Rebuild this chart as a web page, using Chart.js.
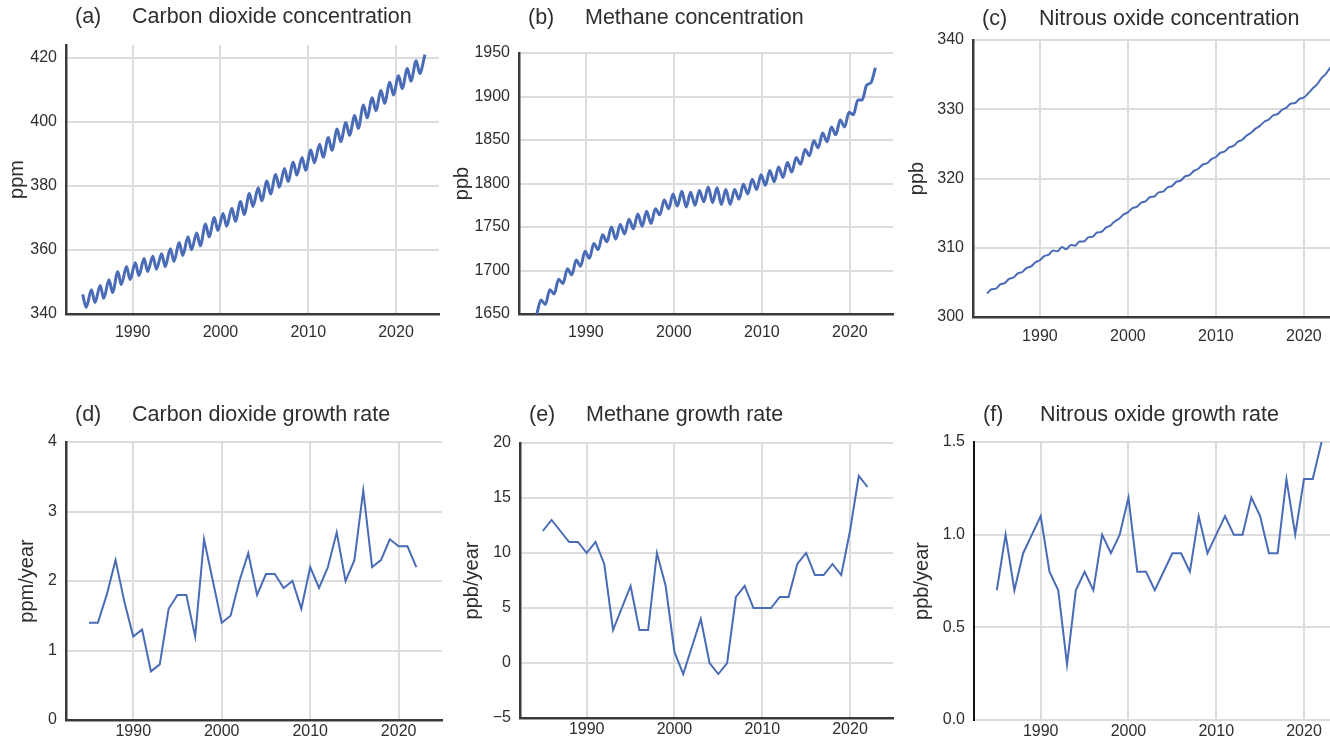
<!DOCTYPE html>
<html>
<head>
<meta charset="utf-8">
<title>Greenhouse gas concentrations and growth rates</title>
<script src="https://cdn.jsdelivr.net/npm/chart.js@4.4.1/dist/chart.umd.min.js"></script>
<style>
  html, body { margin: 0; padding: 0; background: #fff; }
  body { position: relative; width: 1330px; height: 745px; overflow: hidden; }
  canvas { position: absolute; }
</style>
</head>
<body>
<canvas id="co2"     width="450" height="345" style="left:0px;top:0px"></canvas>
<canvas id="ch4"     width="460" height="345" style="left:445px;top:0px"></canvas>
<canvas id="n2o"     width="460" height="345" style="left:900px;top:0px"></canvas>
<canvas id="co2Rate" width="450" height="355" style="left:0px;top:390px"></canvas>
<canvas id="ch4Rate" width="460" height="355" style="left:445px;top:390px"></canvas>
<canvas id="n2oRate" width="460" height="355" style="left:900px;top:390px"></canvas>

<script>
// ===== DATA =====
const xTicks = [1990, 2000, 2010, 2020];

const concYears = [
  1984, 1985, 1986, 1987, 1988, 1989, 1990, 1991, 1992, 1993,
  1994, 1995, 1996, 1997, 1998, 1999, 2000, 2001, 2002, 2003,
  2004, 2005, 2006, 2007, 2008, 2009, 2010, 2011, 2012, 2013,
  2014, 2015, 2016, 2017, 2018, 2019, 2020, 2021, 2022, 2023
];
const growthYears = [
  1985, 1986, 1987, 1988, 1989, 1990, 1991, 1992, 1993, 1994,
  1995, 1996, 1997, 1998, 1999, 2000, 2001, 2002, 2003, 2004,
  2005, 2006, 2007, 2008, 2009, 2010, 2011, 2012, 2013, 2014,
  2015, 2016, 2017, 2018, 2019, 2020, 2021, 2022
];

// CO2 (ppm): spring maximum and autumn minimum of each year
const co2High = [
  346.1, 347.6, 348.9, 350.7, 353.2, 354.8, 356.0, 357.3, 358.0, 358.8,
  360.4, 362.3, 364.1, 365.3, 368.1, 370.1, 371.4, 373.0, 375.1, 377.6,
  379.4, 381.5, 383.6, 385.4, 387.4, 388.9, 391.2, 393.0, 395.1, 397.8,
  399.8, 402.0, 405.3, 407.5, 409.8, 412.4, 414.4, 416.7, 419.1, 421.0
];
const co2Low = [
  342.1, 343.6, 344.9, 346.7, 349.2, 350.8, 352.0, 353.3, 354.0, 354.8,
  356.4, 358.3, 360.1, 361.3, 364.1, 366.1, 367.4, 369.0, 371.1, 373.6,
  375.4, 377.5, 379.6, 381.4, 383.4, 384.9, 387.2, 389.0, 391.1, 393.8,
  395.8, 398.0, 401.3, 403.5, 405.8, 408.4, 410.4, 412.7, 415.1
];

// CH4 (ppb): mid-year minimum and late-year maximum, 1984-2022
const ch4Low = [
  1649, 1661, 1673, 1685, 1695, 1705, 1714, 1724, 1733, 1736,
  1742, 1748, 1751, 1754, 1764, 1771, 1774, 1773, 1775, 1779,
  1778, 1776, 1776, 1782, 1788, 1793, 1798, 1802, 1807, 1813,
  1822, 1832, 1841, 1848, 1856, 1865, 1879, 1896, 1916
];
const ch4High = [
  1666, 1678, 1690, 1702, 1712, 1722, 1731, 1741, 1750, 1753,
  1759, 1765, 1768, 1771, 1781, 1788, 1791, 1790, 1792, 1796,
  1795, 1793, 1793, 1799, 1805, 1810, 1815, 1819, 1824, 1830,
  1839, 1849, 1858, 1865, 1873, 1882, 1896, 1913, 1933
];

// N2O (ppb): January and July values
const n2oJan = [
  303.4, 304.1, 304.9, 305.7, 306.5, 307.3, 308.2, 309.0, 309.5, 309.8,
  310.3, 310.9, 311.6, 312.3, 313.2, 314.2, 315.1, 315.9, 316.7, 317.4,
  318.1, 318.9, 319.7, 320.5, 321.4, 322.2, 323.1, 323.9, 324.7, 325.6,
  326.6, 327.6, 328.5, 329.3, 330.2, 330.9, 331.7, 333.0, 334.5, 336.0
];
const n2oJul = [
  304.0, 304.7, 305.5, 306.3, 307.1, 307.9, 308.8, 309.6, 310.1, 310.4,
  310.9, 311.5, 312.2, 312.9, 313.8, 314.8, 315.7, 316.5, 317.3, 318.0,
  318.7, 319.5, 320.3, 321.1, 322.0, 322.8, 323.7, 324.5, 325.3, 326.2,
  327.2, 328.2, 329.1, 329.9, 330.8, 331.5, 332.3, 333.6, 335.1, 336.6
];

// annual growth rates
const co2Growth = [
  1.4, 1.4, 1.8, 2.3, 1.7, 1.2, 1.3, 0.7, 0.8, 1.6,
  1.8, 1.8, 1.2, 2.6, 2.0, 1.4, 1.5, 2.0, 2.4, 1.8,
  2.1, 2.1, 1.9, 2.0, 1.6, 2.2, 1.9, 2.2, 2.7, 2.0,
  2.3, 3.3, 2.2, 2.3, 2.6, 2.5, 2.5, 2.2
];
const ch4Growth = [
  12, 13, 12, 11, 11, 10, 11, 9, 3, 5,
  7, 3, 3, 10, 7, 1, -1, 1.5, 4, 0,
  -1, 0, 6, 7, 5, 5, 5, 6, 6, 9,
  10, 8, 8, 9, 8, 12, 17, 16
];
const n2oGrowth = [
  0.7, 1.0, 0.7, 0.9, 1.0, 1.1, 0.8, 0.7, 0.3, 0.7,
  0.8, 0.7, 1.0, 0.9, 1.0, 1.2, 0.8, 0.8, 0.7, 0.8,
  0.9, 0.9, 0.8, 1.1, 0.9, 1.0, 1.1, 1.0, 1.0, 1.2,
  1.1, 0.9, 0.9, 1.3, 1.0, 1.3, 1.3, 1.5
];

const co2Ticks     = [340, 360, 380, 400, 420];
const ch4Ticks     = [1650, 1700, 1750, 1800, 1850, 1900, 1950];
const n2oTicks     = [300, 310, 320, 330, 340];
const co2RateTicks = [0, 1, 2, 3, 4];
const ch4RateTicks = [-5, 0, 5, 10, 15, 20];
const n2oRateTicks = [0, 0.5, 1.0, 1.5];

// ===== STYLE =====
const X_MIN = 1982.4;
const X_MAX = 2024.9;
const LINE  = "#4a6cb6";
const GRID  = "#dcdcdc";
const AXIS  = "#3a3a3a";
const TEXT  = "#2e2e2e";
const SANS  = "'Liberation Sans', Arial, sans-serif";

// two readings per year -> {x, y} list (offsets are fractions of the year)
function seasonal(years, first, firstAt, second, secondAt) {
  const pts = [];
  years.forEach((yr, i) => {
    if (first[i] !== undefined) pts.push({ x: yr + firstAt, y: first[i] });
    if (second[i] !== undefined) pts.push({ x: yr + secondAt, y: second[i] });
  });
  return pts;
}

function annual(years, values) {
  return years.map((yr, i) => ({ x: yr, y: values[i] }));
}

const minus = v => (v < 0 ? "\u2212" + Math.abs(v) : String(v));

// "(a)   Title" drawn above the plot, starting just right of the y axis
const panelTitle = {
  id: "panelTitle",
  afterDraw(chart, args, opts) {
    const { ctx, chartArea } = chart;
    ctx.save();
    ctx.font = "21.5px " + SANS;
    ctx.fillStyle = TEXT;
    ctx.textBaseline = "middle";
    ctx.fillText(opts.tag, chartArea.left + 9, opts.y);
    ctx.fillText(opts.name, chartArea.left + 66, opts.y);
    ctx.restore();
  }
};

function makePanel(id, o) {
  return new Chart(document.getElementById(id), {
    type: "line",
    data: {
      datasets: [{
        data: o.points,
        borderColor: LINE,
        borderWidth: o.lineWidth,
        pointRadius: 0,
        cubicInterpolationMode: o.smooth ? "monotone" : "default",
        tension: 0,
        fill: false
      }]
    },
    options: {
      responsive: false,
      animation: false,
      events: [],
      layout: { padding: { top: o.top, right: o.right, left: 0, bottom: 0 } },
      plugins: {
        legend: { display: false },
        tooltip: { enabled: false },
        panelTitle: { tag: o.tag, name: o.name, y: o.titleY }
      },
      scales: {
        x: {
          type: "linear",
          min: X_MIN,
          max: X_MAX,
          afterBuildTicks: s => { s.ticks = xTicks.map(v => ({ value: v })); },
          afterFit: s => { s.height = o.xHeight; },
          grid: { color: GRID, lineWidth: 2, drawTicks: false },
          border: { display: true, color: o.xAxisColor || AXIS, width: o.xAxisColor ? 2 : 2.5 },
          ticks: {
            color: TEXT,
            font: { family: SANS, size: 16 },
            padding: o.xPad,
            maxRotation: 0,
            callback: v => String(v)
          }
        },
        y: {
          type: "linear",
          min: o.yMin,
          max: o.yMax,
          afterBuildTicks: s => { s.ticks = o.yTicks.map(v => ({ value: v })); },
          afterFit: s => { s.width = o.yWidth; },
          grid: { color: GRID, lineWidth: 2, drawTicks: false },
          border: { display: true, color: o.yAxisColor || AXIS, width: o.yAxisWidth || 2.5 },
          ticks: {
            color: TEXT,
            font: { family: SANS, size: 16 },
            padding: 9,
            callback: o.yFormat
          },
          title: {
            display: true,
            text: o.unit,
            color: TEXT,
            font: { family: SANS, size: 20 },
            padding: { top: o.unitPad, bottom: 0 }
          }
        }
      }
    },
    plugins: [panelTitle]
  });
}

// ===== TOP ROW: concentrations =====
makePanel("co2", {
  points: seasonal(concYears, co2High, 0.3, co2Low, 0.7),
  smooth: true, lineWidth: 3,
  yMin: 340, yMax: 424, yTicks: co2Ticks, yFormat: v => String(v),
  unit: "ppm", unitPad: 5,
  tag: "(a)", name: "Carbon dioxide concentration", titleY: 17,
  top: 45, right: 11, yWidth: 66, xHeight: 31, xPad: 9
});

makePanel("ch4", {
  points: seasonal(concYears, ch4Low, 0.4, ch4High, 0.9),
  smooth: true, lineWidth: 3,
  yMin: 1650, yMax: 1950, yTicks: ch4Ticks, yFormat: v => String(v),
  unit: "ppb", unitPad: 5,
  tag: "(b)", name: "Methane concentration", titleY: 18,
  top: 53, right: 12, yWidth: 74, xHeight: 31, xPad: 9
});

makePanel("n2o", {
  points: seasonal(concYears, n2oJan, 0.0, n2oJul, 0.5),
  smooth: true, lineWidth: 2,
  yMin: 300, yMax: 340, yTicks: n2oTicks, yFormat: v => String(v),
  unit: "ppb", unitPad: 5,
  tag: "(c)", name: "Nitrous oxide concentration", titleY: 19,
  top: 40, right: 13, yWidth: 73, xHeight: 28, xPad: 10
});

// ===== BOTTOM ROW: growth rates =====
makePanel("co2Rate", {
  points: annual(growthYears, co2Growth),
  smooth: false, lineWidth: 2,
  yMin: 0, yMax: 4, yTicks: co2RateTicks, yFormat: v => String(v),
  unit: "ppm/year", unitPad: 15,
  tag: "(d)", name: "Carbon dioxide growth rate", titleY: 25,
  top: 52, right: 8, yWidth: 66, xHeight: 25, xPad: 2
});

makePanel("ch4Rate", {
  points: annual(growthYears, ch4Growth),
  smooth: false, lineWidth: 2,
  yMin: -5, yMax: 20, yTicks: ch4RateTicks, yFormat: minus,
  unit: "ppb/year", unitPad: 15,
  tag: "(e)", name: "Methane growth rate", titleY: 25,
  top: 53, right: 12, yWidth: 75, xHeight: 27, xPad: 2
});

makePanel("n2oRate", {
  points: annual(growthYears, n2oGrowth),
  smooth: false, lineWidth: 2,
  yMin: 0, yMax: 1.5, yTicks: n2oRateTicks, yFormat: v => v.toFixed(1),
  unit: "ppb/year", unitPad: 10,
  tag: "(f)", name: "Nitrous oxide growth rate", titleY: 25,
  top: 52, right: 13, yWidth: 74, xHeight: 25, xPad: 2,
  xAxisColor: GRID, yAxisColor: "#111", yAxisWidth: 2
});
</script>
</body>
</html>
